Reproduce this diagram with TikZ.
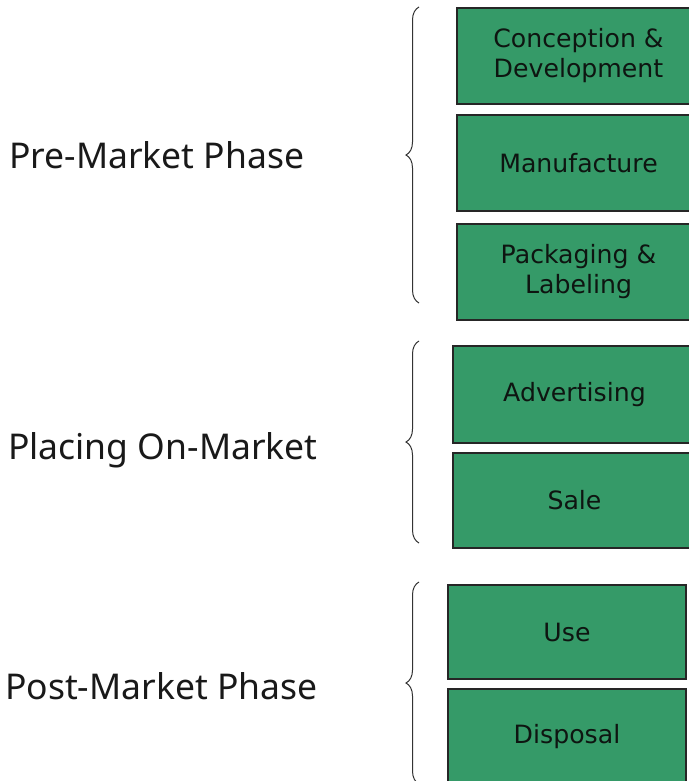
\documentclass[tikz,border=0pt]{standalone}
\usepackage{fontspec}
\setmainfont{DejaVu Sans}
\newfontfamily\labelfont{Noto Sans}
\usetikzlibrary{decorations.pathreplacing}
\definecolor{boxgreen}{HTML}{359A68}
\definecolor{boxtext}{HTML}{0E1511}
\tikzset{
  phasebox/.style={draw=black!85, line width=1.4pt, fill=boxgreen, text=boxtext,
    minimum width=243pt, inner sep=0pt, align=center,
    font=\fontsize{25.2}{30}\selectfont},
  phaselabel/.style={anchor=west, inner sep=0pt, text=black!90,
    font=\labelfont\fontsize{35.5}{40}\selectfont},
  bracestyle/.style={decorate, decoration={brace, amplitude=13pt, aspect=0.5},
    draw=black!80, line width=1pt}
}
\begin{document}
\begin{tikzpicture}[x=1pt, y=-1pt]
\useasboundingbox (0,0) rectangle (688,781);
% boxes
\node[phasebox, minimum height=96pt] (concep) at (578.5,56) {Conception \&\\Development};
\node[phasebox, minimum height=96pt] (manuf) at (578.5,163) {Manufacture};
\node[phasebox, minimum height=96pt] (pack) at (578.5,272) {Packaging \&\\Labeling};
\node[phasebox, minimum height=97pt] (adv) at (574.5,394.5) {Advertising};
\node[phasebox, minimum height=95pt] (sale) at (574.5,500.5) {Sale};
\node[phasebox, minimum width=238pt, minimum height=94pt] (use) at (567,632) {Use};
\node[phasebox, minimum width=238pt, minimum height=96pt] (disp) at (567,737) {Disposal};
% labels
\node[phaselabel] (pre) at (9,155) {Pre-Market Phase};
\node[phaselabel] (placing) at (8,450) {Placing On-Market};
\node[phaselabel] (post) at (5,686) {Post-Market Phase};
% braces
\coordinate (b1s) at (419,303);
\coordinate (b1e) at (419,7);
\coordinate (b2s) at (419,543);
\coordinate (b2e) at (419,341);
\coordinate (b3s) at (419,784);
\coordinate (b3e) at (419,582);
\draw[bracestyle] (b1s) -- (b1e);
\draw[bracestyle] (b2s) -- (b2e);
\draw[bracestyle] (b3s) -- (b3e);
\end{tikzpicture}
\end{document}
